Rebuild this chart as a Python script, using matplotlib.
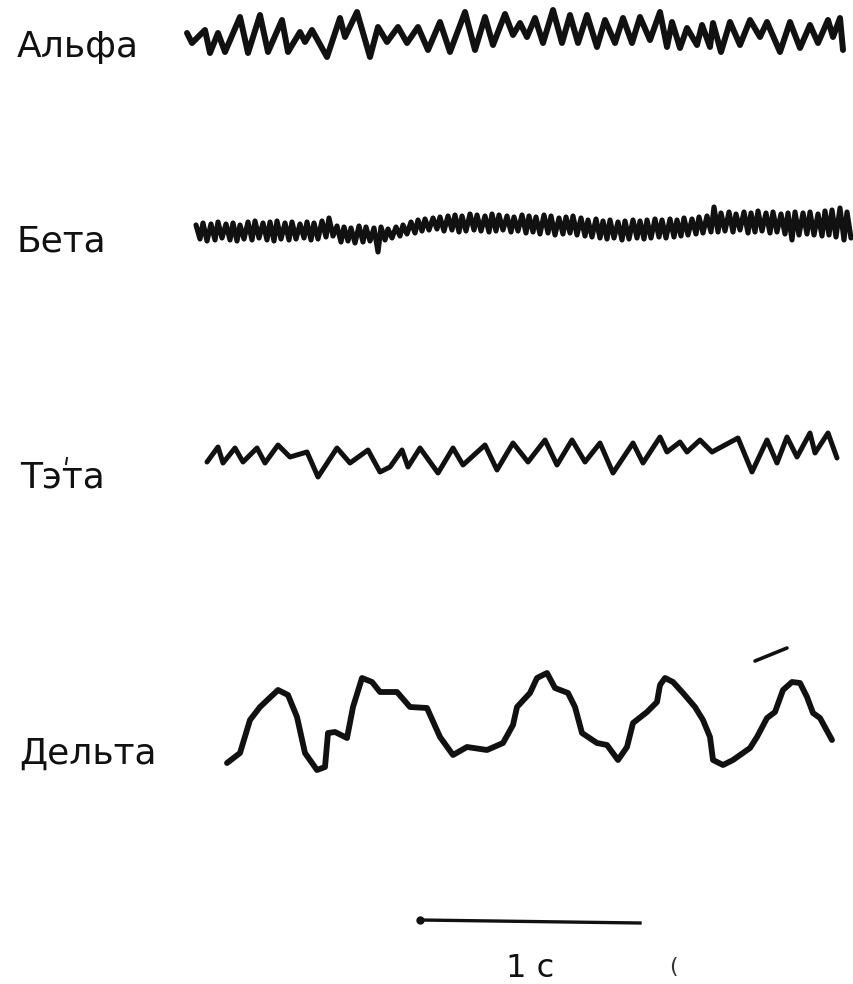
import matplotlib
matplotlib.use("Agg")
import matplotlib.pyplot as plt
import numpy as np

# time axis: 220 units = 1 s (scale bar); amplitudes are "up" from each trace baseline
UNITS_PER_S = 220

labels = ["Альфа", "Бета", "Тэта", "Дельта"]

alpha_t = [187, 192, 205, 210, 218, 225, 240, 248, 260, 268, 282, 288, 300, 305, 312,
           327, 340, 345, 357, 370, 378, 387, 398, 407, 418, 428, 440, 450, 465, 475,
           485, 493, 505, 513, 520, 527, 535, 543, 553, 562, 570, 578, 587, 597, 605,
           615, 623, 632, 640, 650, 660, 667, 672, 680, 687, 697, 702, 710, 713, 721,
           730, 740, 750, 760, 767, 780, 790, 800, 810, 818, 828, 833, 840, 843]
alpha_a = [2, -8, 5, -18, 2, -17, 18, -18, 20, -17, 15, -17, 3, -7, 5,
           -22, 17, -2, 23, -22, 8, -7, 8, -8, 8, -15, 13, -17, 23, -15,
           18, -10, 21, 0, 12, -2, 17, -8, 25, -8, 20, -8, 20, -12, 15,
           -8, 17, -8, 18, -5, 23, -12, 13, -13, 7, -10, 10, -12, 12, -17,
           13, -10, 15, -2, 13, -17, 13, -13, 10, -8, 15, -2, 17, -15]

beta_peak_t = [196, 203, 211, 218, 226, 233, 240, 248, 255, 263, 270, 277, 285, 292, 300,
               307, 314, 322, 329, 337, 344, 351, 359, 366, 374, 381, 388, 396, 403, 411,
               418, 425, 433, 440, 448, 455, 462, 470, 477, 485, 492, 499, 507, 514, 522,
               529, 536, 544, 551, 559, 566, 573, 581, 588, 596, 603, 610, 618, 625, 633,
               640, 647, 655, 662, 670, 677, 684, 692, 699, 707, 714, 721, 729, 736, 744,
               751, 758, 766, 773, 781, 788, 795, 803, 810, 818, 825, 832, 840, 847]
beta_peak_a = [5, 7, 6, 8, 6, 7, 5, 8, 9, 7, 8, 9, 7, 8, 6, 8, 7, 9, 12,
               4, 3, 2, 4, 3, 2, 3,
               1, 3, 5, 8, 10, 11, 12,
               13, 14, 15, 14, 16, 15, 14, 16, 15, 14, 13, 15, 14, 13, 15, 14, 12, 13, 14, 12,
               10, 11, 9, 10, 8, 9, 10, 9, 10, 11, 10, 11, 10, 12, 11, 13, 14,
               23,
               17, 18, 16, 18, 17, 19, 17, 18, 16, 17, 18,
               17, 18, 16, 19, 20, 22, 18]
beta_trough_t = [200, 207, 215, 222, 230, 237, 244, 252, 259, 267, 274, 281, 289, 296, 304,
                 311, 318, 326, 333, 341, 348, 355, 363, 370, 378, 385, 392, 400, 407, 415,
                 422, 429, 437, 444, 452, 459, 466, 474, 481, 489, 496, 503, 511, 518, 526,
                 533, 540, 548, 555, 563, 570, 577, 585, 592, 600, 607, 614, 622, 629, 637,
                 644, 651, 659, 666, 674, 681, 688, 696, 703, 711, 718, 725, 733, 740, 748,
                 755, 762, 770, 777, 785, 792, 799, 807, 814, 822, 829, 836, 844, 851]
beta_trough_a = [-9, -11, -10, -8, -10, -11, -9, -10, -8, -10, -11, -9, -10, -9, -8, -10, -9, -7, -6,
                 -12, -11, -13, -12, -11, -22, -10,
                 -8, -6, -4, -3, -1, 0, 1,
                 -1, 0, -2, -1, 0, -1, -2, -1, 0, -2, -1, -3, -2, -4, -3, -5, -4, -3, -5, -6,
                 -7, -8, -9, -8, -10, -9, -8, -9, -8, -7, -8, -7, -6, -5, -4, -3, -2,
                 -2,
                 -1, -2, 0, -3, -2, -1, -3, -2, -4, -10, -5,
                 -4, -5, -6, -5, -7, -10, -8]

theta_t = [207, 218, 223, 235, 243, 257, 265, 278, 290, 307, 318, 337, 350, 368, 380,
           390, 402, 408, 420, 438, 453, 463, 485, 497, 513, 528, 545, 557, 572, 585,
           600, 613, 633, 643, 660, 667, 680, 687, 700, 712, 738, 752, 767, 777, 787,
           797, 810, 815, 828, 837]
theta_a = [-7, 8, -8, 7, -7, 7, -8, 10, -2, 3, -22, 7, -8, 5, -17,
           -12, 5, -12, 7, -18, 7, -10, 10, -15, 12, -7, 15, -10, 15, -7,
           12, -18, 12, -8, 18, 3, 13, 3, 15, 3, 17, -17, 15, -8, 18,
           -2, 22, 2, 22, -3]

delta_t = [227, 240, 250, 260, 278, 288, 297, 305, 317, 325, 328, 335, 347, 353, 362,
           372, 380, 397, 410, 427, 440, 453, 467, 487, 503, 513, 517, 530, 537, 547,
           555, 568, 575, 582, 597, 607, 618, 627, 633, 647, 657, 660, 665, 673, 683,
           695, 703, 710, 713, 723, 733, 750, 757, 767, 775, 783, 792, 800, 807, 813,
           820, 832]
delta_a = [-43, -33, 0, 13, 30, 25, 3, -33, -50, -47, -13, -12, -18, 13, 42,
           38, 28, 28, 13, 12, -17, -35, -27, -30, -23, -5, 13, 27, 42, 47,
           32, 27, 13, -13, -23, -25, -40, -27, -3, 8, 18, 35, 42, 38, 27,
           13, 0, -17, -40, -45, -40, -28, -17, 2, 8, 30, 38, 37, 23, 7,
           2, -20]

# layout (figure pixels, y downwards)
W, H = 854, 984
bases = {"Альфа": 35, "Бета": 230, "Тэта": 455, "Дельта": 720}
label_pos = {"Альфа": (17, 57), "Бета": (16, 252), "Тэта": (20, 488), "Дельта": (19, 764)}
widths = {"Альфа": 4.3, "Бета": 3.7, "Тэта": 3.6, "Дельта": 4.2}
INK = "#111111"
FONT = 26

beta_t = np.column_stack([beta_peak_t, beta_trough_t]).ravel()
beta_a = np.column_stack([beta_peak_a, beta_trough_a]).ravel()
traces = {
    "Альфа": (alpha_t, alpha_a),
    "Бета": (beta_t, beta_a),
    "Тэта": (theta_t, theta_a),
    "Дельта": (delta_t, delta_a),
}

fig = plt.figure(figsize=(W / 100, H / 100), dpi=100)
ax = fig.add_axes([0, 0, 1, 1])
ax.set_xlim(0, W)
ax.set_ylim(H, 0)
ax.set_axis_off()

for name in labels:
    t, a = traces[name]
    y = bases[name] - np.asarray(a, float)
    ax.plot(t, y, color=INK, lw=widths[name], solid_joinstyle="round",
            solid_capstyle="round")
    lx, ly = label_pos[name]
    ax.text(lx, ly, name, fontsize=FONT, family="DejaVu Sans", color=INK,
            ha="left", va="baseline")

# small pen tick over "Тэта" and stray stroke above the last delta wave
ax.plot([67, 66], [458, 464], color=INK, lw=1.4)
ax.plot([755, 787], [661, 648], color=INK, lw=2.6, solid_capstyle="round")

# scale bar: 1 s
bar_x0, bar_y = 420, 920
ax.plot([bar_x0, bar_x0 + UNITS_PER_S], [bar_y, bar_y + 3], color=INK, lw=2.4)
ax.plot([bar_x0], [bar_y], "o", color=INK, ms=5)
ax.text(bar_x0 + UNITS_PER_S / 2, 977, "1 с", fontsize=23, family="DejaVu Sans",
        color=INK, ha="center", va="baseline")
ax.text(673, 973, "(", fontsize=16, family="DejaVu Sans", color="#333333",
        ha="center", va="baseline")

fig.savefig("out.png", dpi=100, facecolor="white")
